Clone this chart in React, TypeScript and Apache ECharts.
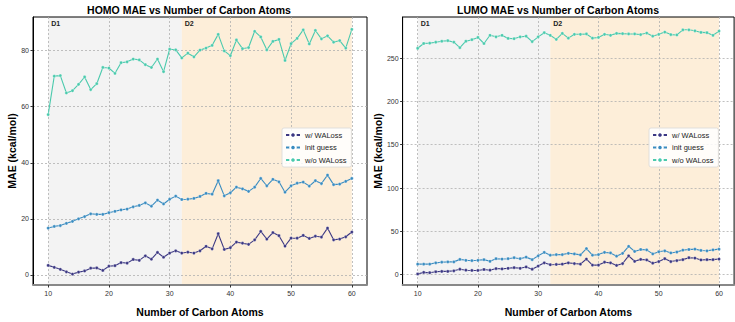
import React, { useEffect, useRef } from "react";
import * as echarts from "echarts";

const carbonAtoms = [10, 11, 12, 13, 14, 15, 16, 17, 18, 19, 20, 21, 22, 23, 24, 25, 26, 27, 28, 29, 30, 31, 32, 33, 34, 35, 36, 37, 38, 39, 40, 41, 42, 43, 44, 45, 46, 47, 48, 49, 50, 51, 52, 53, 54, 55, 56, 57, 58, 59, 60];

const seriesNames = ["w/ WALoss", "init guess", "w/o WALoss"];
const seriesColors = ["#3b3782", "#3a8cc0", "#4bcaad"];

const homoWithWALoss = [3.4, 2.7, 2.0, 1.1, 0.3, 1.0, 1.4, 2.4, 2.5, 1.6, 3.1, 3.3, 4.4, 4.2, 5.5, 5.2, 6.8, 5.6, 8.0, 6.3, 7.8, 8.6, 7.8, 8.1, 7.8, 8.6, 10.2, 9.3, 14.7, 9.1, 9.7, 11.7, 11.3, 10.9, 12.5, 15.5, 12.8, 15.1, 14.0, 10.3, 13.1, 13.1, 14.1, 13.0, 13.8, 13.5, 16.7, 12.5, 12.8, 13.6, 15.3];
const homoInitGuess = [16.7, 17.3, 17.6, 18.4, 19.1, 20.0, 20.8, 21.8, 21.6, 21.6, 22.2, 22.7, 23.2, 23.5, 24.3, 24.8, 25.7, 24.5, 26.7, 25.3, 27.0, 28.1, 26.9, 27.0, 27.3, 28.0, 29.1, 28.8, 33.6, 28.2, 29.3, 31.3, 30.7, 29.8, 31.3, 34.4, 31.8, 34.1, 33.2, 29.5, 31.8, 32.7, 33.1, 31.7, 33.6, 32.6, 35.6, 32.2, 32.4, 33.4, 34.4];
const homoWithoutWALoss = [57.2, 70.9, 71.1, 64.9, 65.7, 68.0, 70.6, 66.1, 68.2, 74.0, 73.8, 71.9, 75.7, 76.0, 77.0, 76.7, 75.0, 74.0, 77.0, 72.5, 80.5, 80.3, 77.4, 79.1, 77.8, 80.2, 80.9, 81.9, 85.8, 79.9, 78.2, 83.8, 80.7, 81.1, 86.9, 84.9, 80.3, 83.3, 84.0, 76.5, 82.5, 84.4, 87.4, 82.4, 87.2, 84.2, 85.3, 83.0, 83.6, 80.9, 87.6];

const lumoWithWALoss = [0.7, 2.6, 2.2, 3.3, 3.7, 3.7, 4.4, 6.2, 5.1, 4.8, 4.8, 5.9, 5.1, 7.0, 6.6, 7.3, 8.1, 7.3, 8.8, 6.2, 9.9, 13.6, 11.4, 11.7, 12.1, 13.6, 12.8, 12.1, 18.0, 11.0, 11.0, 14.3, 13.6, 10.6, 12.8, 21.7, 15.4, 17.6, 16.9, 13.2, 15.1, 18.4, 15.1, 16.2, 17.3, 19.5, 19.1, 16.9, 17.3, 17.3, 18.0];
const lumoInitGuess = [12.1, 12.1, 12.1, 13.6, 14.3, 14.7, 14.7, 17.6, 16.5, 16.2, 16.5, 17.3, 15.4, 18.4, 18.0, 18.4, 19.5, 18.4, 20.2, 17.3, 21.7, 25.7, 22.4, 23.1, 23.1, 24.6, 23.9, 22.8, 30.1, 22.4, 23.1, 25.7, 25.0, 21.3, 24.6, 32.7, 26.8, 29.0, 28.6, 23.9, 26.4, 27.5, 25.0, 26.1, 28.3, 29.0, 29.4, 27.9, 27.5, 28.6, 29.4];
const lumoWithoutWALoss = [261.4, 266.9, 267.3, 268.4, 269.5, 270.2, 268.4, 262.1, 269.5, 271.3, 273.9, 266.9, 276.4, 274.6, 276.4, 272.8, 272.4, 274.6, 275.3, 269.1, 274.6, 279.4, 276.4, 271.7, 278.6, 273.1, 277.5, 277.5, 277.9, 273.1, 273.9, 277.5, 276.4, 278.6, 278.3, 277.9, 277.9, 277.2, 279.0, 275.3, 277.5, 280.1, 277.2, 276.8, 282.7, 282.7, 281.6, 279.7, 279.4, 276.4, 281.2];

const xTicks = [10, 20, 30, 40, 50, 60];
const homoYTicks = [0, 20, 40, 60, 80];
const lumoYTicks = [0, 50, 100, 150, 200, 250];

const regionD1 = [10, 32];
const regionD2 = [32, 60];

const FONT = "Liberation Sans, Arial, sans-serif";

export default function App() {
  const ref = useRef<HTMLDivElement>(null);

  useEffect(() => {
    if (!ref.current) return;
    const chart = echarts.init(ref.current, undefined, { renderer: "svg" });

    const makeX = (gridIndex: number) => ({
      type: "value",
      gridIndex,
      min: 7.5,
      max: 62.5,
      name: "Number of Carbon Atoms",
      nameLocation: "middle",
      nameGap: 21,
      nameTextStyle: { fontFamily: FONT, fontWeight: "bold", fontSize: 10.5, color: "#000" },
      axisLine: { show: true, onZero: false, lineStyle: { color: "#888", width: 2 } },
      axisTick: { show: true, length: 2.5, customValues: xTicks, lineStyle: { color: "#333" } },
      axisLabel: { customValues: xTicks, fontFamily: FONT, fontSize: 7, color: "#333", margin: 5 },
      splitLine: { show: true, lineStyle: { color: "#b0b0b0", type: [2, 2], width: 0.8 } },
    });

    const makeY = (gridIndex: number, min: number, max: number, ticks: number[]) => ({
      type: "value",
      gridIndex,
      min,
      max,
      name: "MAE (kcal/mol)",
      nameLocation: "middle",
      nameGap: 16,
      nameTextStyle: { fontFamily: FONT, fontWeight: "bold", fontSize: 10.5, color: "#000" },
      axisLine: { show: true, lineStyle: { color: "#000", width: 1 } },
      axisTick: { show: true, length: 2.5, customValues: ticks, lineStyle: { color: "#333" } },
      axisLabel: { customValues: ticks, fontFamily: FONT, fontSize: 7, color: "#333", margin: 4 },
      splitLine: { show: true, lineStyle: { color: "#b0b0b0", type: [2, 2], width: 0.8 } },
    });

    const regionLabel = (text: string) => ({
      show: true,
      formatter: text,
      position: "insideTopLeft",
      distance: 3,
      fontFamily: FONT,
      fontWeight: "bold",
      fontSize: 7,
      color: "#222",
    });

    const regionSeries = (gridIndex: number) => ({
      type: "line",
      name: "regions",
      xAxisIndex: gridIndex,
      yAxisIndex: gridIndex,
      data: [],
      silent: true,
      z: -1,
      markArea: {
        silent: true,
        z: -1,
        data: [
          [{ xAxis: regionD1[0], itemStyle: { color: "#f3f3f3" }, label: regionLabel("D1") }, { xAxis: regionD1[1] }],
          [{ xAxis: regionD2[0], itemStyle: { color: "#fdeed9" }, label: regionLabel("D2") }, { xAxis: regionD2[1] }],
        ],
      },
    });

    const makeSeries = (idx: number, values: number[], gridIndex: number) => ({
      type: "line",
      name: seriesNames[idx],
      xAxisIndex: gridIndex,
      yAxisIndex: gridIndex,
      data: carbonAtoms.map((x, i) => [x, values[i]]),
      symbol: "circle",
      symbolSize: 3.2,
      showSymbol: true,
      lineStyle: { color: seriesColors[idx], width: 1.1 },
      itemStyle: { color: seriesColors[idx], borderColor: "#ffffff", borderWidth: 0.4 },
      z: 3 + idx,
    });

    const legendBase = {
      orient: "vertical",
      top: 128,
      itemWidth: 14,
      itemHeight: 7,
      itemGap: 4.5,
      padding: [3, 5, 3, 3],
      backgroundColor: "rgba(255,255,255,0.85)",
      borderColor: "#d8d8d8",
      borderWidth: 0.8,
      borderRadius: 2,
      textStyle: { fontFamily: FONT, fontSize: 7.5, color: "#222" },
      data: seriesNames,
    };

    const titleBase = {
      top: 0,
      padding: [4, 5, 2, 5],
      textAlign: "center",
      textStyle: { fontFamily: FONT, fontWeight: "bold", fontSize: 10.5, color: "#000" },
    };

    chart.setOption({
      animation: false,
      backgroundColor: "#ffffff",
      title: [
        { ...titleBase, text: "HOMO MAE vs Number of Carbon Atoms", left: 184 },
        { ...titleBase, text: "LUMO MAE vs Number of Carbon Atoms", left: 553 },
      ],
      legend: [
        { ...legendBase, left: 282 },
        { ...legendBase, left: 649 },
      ],
      grid: [
        { left: 33, top: 17, width: 334, height: 280.5, show: true, borderColor: "#000", borderWidth: 1, backgroundColor: "transparent" },
        { left: 402.6, top: 17, width: 331.5, height: 280.5, show: true, borderColor: "#000", borderWidth: 1, backgroundColor: "transparent" },
      ],
      xAxis: [makeX(0), makeX(1)],
      yAxis: [makeY(0, -3.6, 92.0, homoYTicks), makeY(1, -12, 297.5, lumoYTicks)],
      series: [
        regionSeries(0),
        makeSeries(0, homoWithWALoss, 0),
        makeSeries(1, homoInitGuess, 0),
        makeSeries(2, homoWithoutWALoss, 0),
        regionSeries(1),
        makeSeries(0, lumoWithWALoss, 1),
        makeSeries(1, lumoInitGuess, 1),
        makeSeries(2, lumoWithoutWALoss, 1),
      ],
    });

    return () => chart.dispose();
  }, []);

  return <div ref={ref} style={{ position: "fixed", left: 0, top: 0, width: 735, height: 322 }} />;
}
